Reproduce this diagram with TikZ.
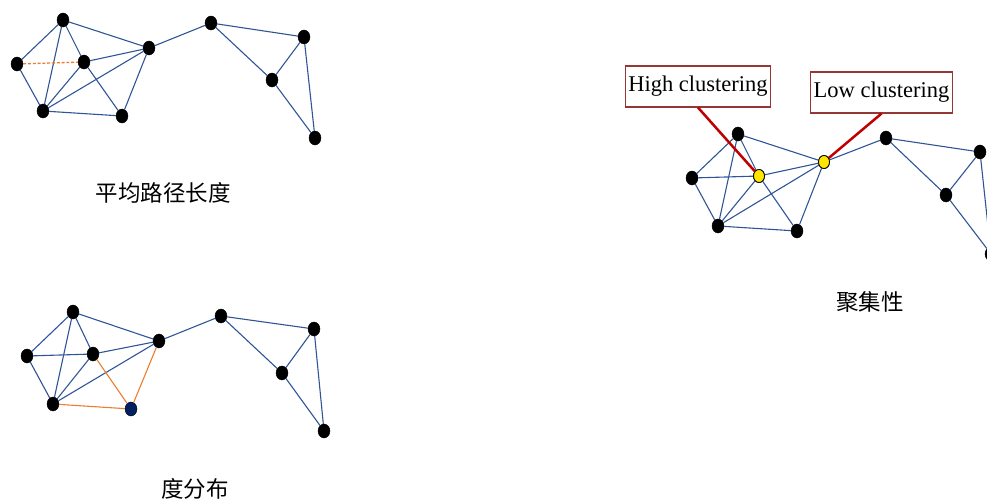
\documentclass[tikz,border=0pt]{standalone}
\usepackage{fontspec}
\setmainfont{Liberation Serif}
\newfontfamily\cjk{Noto Sans CJK SC}
\usetikzlibrary{shapes.geometric}
\definecolor{edgeblue}{HTML}{2F5597}
\definecolor{edgeorange}{HTML}{ED7D31}
\definecolor{callred}{HTML}{C00000}
\definecolor{boxred}{HTML}{953735}
\definecolor{navy}{HTML}{002060}
\definecolor{ylw}{HTML}{FFE600}
\tikzset{
  vtx/.style={ellipse,fill=black,draw=black,line width=0.4pt,minimum width=12pt,minimum height=14pt,inner sep=0pt},
  vtxblue/.style={vtx,fill=navy},
  vtxyel/.style={vtx,fill=ylw,line width=0.8pt,minimum width=11pt,minimum height=13pt},
  ed/.style={draw=edgeblue,line width=1.1pt},
  edo/.style={draw=edgeorange,line width=1.1pt},
  edod/.style={draw=edgeorange,line width=1.3pt,dash pattern=on 3pt off 1.8pt},
  callout/.style={draw=callred,line width=2.5pt},
  lbox/.style={draw=boxred,line width=1.1pt,fill=white,font=\fontsize{22.5}{26}\selectfont,inner xsep=3pt,inner ysep=0pt,minimum height=41pt},
  captxt/.style={font=\cjk\fontsize{22.5}{26}\selectfont,inner sep=0pt},
}
\begin{document}
\begin{tikzpicture}[x=1pt,y=-1pt]
\clip (0,0) rectangle (987,499);
% ---------- top-left graph ----------
\node[vtx] (a1) at (63,20) {};
\node[vtx] (b1) at (17,64) {};
\node[vtx] (c1) at (84,62) {};
\node[vtx] (d1) at (43,111) {};
\node[vtx] (e1) at (122,116) {};
\node[vtx] (f1) at (149,48) {};
\node[vtx] (g1) at (211,23) {};
\node[vtx] (h1) at (304,37) {};
\node[vtx] (i1) at (272,80) {};
\node[vtx] (j1) at (315,138) {};
\path[ed] (a1)--(b1) (a1)--(c1) (a1)--(d1) (a1)--(f1) (b1)--(d1) (c1)--(d1) (c1)--(e1) (c1)--(f1)
  (d1)--(f1) (d1)--(e1) (e1)--(f1) (f1)--(g1) (g1)--(h1) (g1)--(i1) (h1)--(i1) (h1)--(j1) (i1)--(j1);
\path[edod] (b1)--(c1);
\node[captxt] (t1) at (163,193) {平均路径长度};
% ---------- bottom-left graph ----------
\node[vtx] (a2) at (73,312) {};
\node[vtx] (b2) at (27,356) {};
\node[vtx] (c2) at (93,354) {};
\node[vtx] (d2) at (53,404) {};
\node[vtxblue] (e2) at (131,409) {};
\node[vtx] (f2) at (159,341) {};
\node[vtx] (g2) at (221,316) {};
\node[vtx] (h2) at (314,329) {};
\node[vtx] (i2) at (282,373) {};
\node[vtx] (j2) at (324,431) {};
\path[ed] (a2)--(b2) (a2)--(c2) (a2)--(d2) (a2)--(f2) (b2)--(c2) (b2)--(d2) (c2)--(d2) (c2)--(f2)
  (d2)--(f2) (f2)--(g2) (g2)--(h2) (g2)--(i2) (h2)--(i2) (h2)--(j2) (i2)--(j2);
\path[edo] (c2)--(e2) (d2)--(e2) (e2)--(f2);
\node[captxt] (t2) at (195,489) {度分布};
% ---------- right graph ----------
\node[vtx] (a3) at (738,134) {};
\node[vtx] (b3) at (692,178) {};
\node[vtxyel] (c3) at (759,176) {};
\node[vtx] (d3) at (718,226) {};
\node[vtx] (e3) at (797,231) {};
\node[vtxyel] (f3) at (824,162) {};
\node[vtx] (g3) at (886,138) {};
\node[vtx] (h3) at (980,152) {};
\node[vtx] (i3) at (946,195) {};
\node[vtx] (j3) at (991,254) {};
\path[ed] (a3)--(b3) (a3)--(c3) (a3)--(d3) (a3)--(f3) (b3)--(c3) (b3)--(d3) (c3)--(d3) (c3)--(e3) (c3)--(f3)
  (d3)--(f3) (d3)--(e3) (e3)--(f3) (f3)--(g3) (g3)--(h3) (g3)--(i3) (h3)--(i3) (h3)--(j3) (i3)--(j3);
\node[lbox] (hc) at (698,86.5) {High clustering};
\node[lbox] (lc) at (881.5,92.5) {Low clustering};
\draw[callout] (hc.south) -- (c3);
\draw[callout] (lc.south) -- (f3);
\node[vtxyel] at (c3) {};
\node[vtxyel] at (f3) {};
\node[captxt] (t3) at (870,302) {聚集性};
\end{tikzpicture}
\end{document}
